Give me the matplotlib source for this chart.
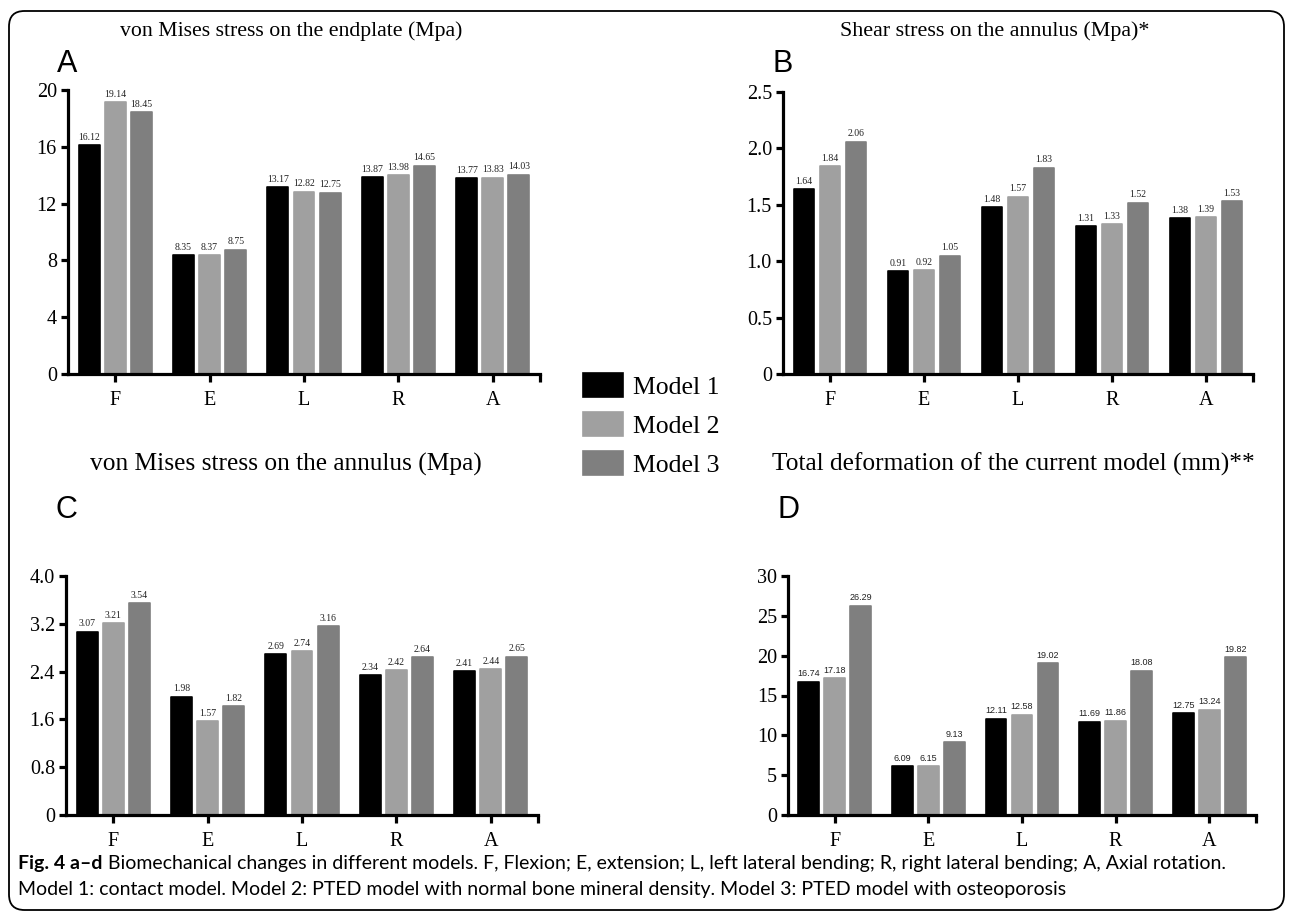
import matplotlib
matplotlib.use("Agg")
import matplotlib.pyplot as plt
import numpy as np
from matplotlib.patches import Patch, FancyBboxPatch

W, H = 1292, 919

cats = ["F", "E", "L", "R", "A"]
models = ["Model 1", "Model 2", "Model 3"]
colors = ["#000000", "#a0a0a0", "#7f7f7f"]

# panel A: von Mises stress on the endplate
endplate_m1 = [16.12, 8.35, 13.17, 13.87, 13.77]
endplate_m2 = [19.14, 8.37, 12.82, 13.98, 13.83]
endplate_m3 = [18.45, 8.75, 12.75, 14.65, 14.03]

# panel B: shear stress on the annulus
shear_m1 = [1.64, 0.91, 1.48, 1.31, 1.38]
shear_m2 = [1.84, 0.92, 1.57, 1.33, 1.39]
shear_m3 = [2.06, 1.05, 1.83, 1.52, 1.53]

# panel C: von Mises stress on the annulus
annulus_m1 = [3.07, 1.98, 2.69, 2.34, 2.41]
annulus_m2 = [3.21, 1.57, 2.74, 2.42, 2.44]
annulus_m3 = [3.54, 1.82, 3.16, 2.64, 2.65]

# panel D: total deformation
deform_m1 = [16.74, 6.09, 12.11, 11.69, 12.75]
deform_m2 = [17.18, 6.15, 12.58, 11.86, 13.24]
deform_m3 = [26.29, 9.13, 19.02, 18.08, 19.82]

serif = "Liberation Serif"
sans = "Liberation Sans"

fig = plt.figure(figsize=(W / 100, H / 100), dpi=100)


def px_axes(left, right, top, bottom):
    return fig.add_axes([left / W, 1 - bottom / H, (right - left) / W, (bottom - top) / H])


def panel(ax, series, ymax, ystep, fmt, title, title_size, letter, title_xy, letter_xy,
          label_font, label_size):
    x = np.arange(len(cats))
    width = 0.222
    pitch = 0.277
    for i, (vals, c) in enumerate(zip(series, colors)):
        bars = ax.bar(x + (i - 1) * pitch, vals, width, color=c, edgecolor=c,
                      linewidth=1.2, joinstyle="round", zorder=2)
        for b, v in zip(bars, vals):
            ax.annotate(f"{v:.2f}", (b.get_x() + b.get_width() / 2, v),
                        xytext=(0, 2.5), textcoords="offset points",
                        ha="center", va="bottom", fontsize=label_size,
                        family=label_font, color="#222222")
    ax.set_xlim(-0.5, 4.5)
    ax.set_ylim(0, ymax)
    yt = np.arange(0, ymax + ystep / 2, ystep)
    ax.set_yticks(yt)
    ax.set_yticklabels(["0"] + [fmt.format(v) for v in yt[1:]])
    ax.set_xticks(x)
    ax.set_xticklabels(cats)
    ax.set_xticks([4.5], minor=True)
    for s in ["top", "right"]:
        ax.spines[s].set_visible(False)
    for s in ["left", "bottom"]:
        ax.spines[s].set_linewidth(2.3)
    ax.tick_params(which="both", direction="out", length=5, width=2.3, labelsize=14.5, pad=3)
    ax.tick_params(axis="x", which="both", length=6, pad=6)
    for lab in ax.get_xticklabels() + ax.get_yticklabels():
        lab.set_family(serif)
    fig.text(title_xy[0] / W, 1 - title_xy[1] / H, title, ha="center", va="center",
             fontsize=title_size, family=serif)
    fig.text(letter_xy[0] / W, 1 - letter_xy[1] / H, letter, ha="center", va="center",
             fontsize=22, family=sans)


axA = px_axes(68, 540, 90, 374)
panel(axA, [endplate_m1, endplate_m2, endplate_m3], 20, 4, "{:.0f}",
      "von Mises stress on the endplate (Mpa)", 15.7, "A", (291, 31), (67, 64), serif, 7)

axB = px_axes(783, 1253, 92, 374)
panel(axB, [shear_m1, shear_m2, shear_m3], 2.5, 0.5, "{:.1f}",
      "Shear stress on the annulus (Mpa)*", 15.8, "B", (995, 31), (783, 64), serif, 7)

axC = px_axes(66, 538, 576, 815)
panel(axC, [annulus_m1, annulus_m2, annulus_m3], 4.0, 0.8, "{:.1f}",
      "von Mises stress on the annulus (Mpa)", 18.3, "C", (286, 464), (66, 510), serif, 7)

axD = px_axes(788, 1256, 576, 815)
panel(axD, [deform_m1, deform_m2, deform_m3], 30, 5, "{:.0f}",
      "Total deformation of the current model (mm)**", 18.3, "D", (1013, 464), (788, 510),
      sans, 6.5)

# legend
handles = [Patch(facecolor=c, edgecolor=c, linewidth=1.2, joinstyle="round") for c in colors]
fig.legend(handles, models, loc="center left", bbox_to_anchor=(583 / W, 1 - 425 / H),
           frameon=False, handlelength=1.55, handleheight=1.05, handletextpad=0.4,
           labelspacing=0.52, prop={"family": serif, "size": 18.5}, borderaxespad=0,
           borderpad=0)

# frame
frame = FancyBboxPatch((9 / W, 1 - 910 / H), (1284 - 9) / W, (910 - 11) / H,
                       boxstyle="round,pad=0,rounding_size=0.012",
                       mutation_aspect=W / H, transform=fig.transFigure,
                       facecolor="none", edgecolor="black", linewidth=1.3)
fig.patches.append(frame)

# caption
fig.canvas.draw()
r = fig.canvas.get_renderer()
cap_font = "Lato"
t1 = fig.text(18 / W, 1 - 864 / H, "Fig. 4 a\u2013d", fontsize=14, family=cap_font,
              weight="bold", va="center", ha="left")
bb = t1.get_window_extent(r)
fig.text((bb.x1 + 6) / W, 1 - 864 / H,
         "Biomechanical changes in different models. F, Flexion; E, extension; L, left lateral "
         "bending; R, right lateral bending; A, Axial rotation.",
         fontsize=14, family=cap_font, va="center", ha="left")
fig.text(18 / W, 1 - 890 / H,
         "Model 1: contact model. Model 2: PTED model with normal bone mineral density. "
         "Model 3: PTED model with osteoporosis",
         fontsize=14, family=cap_font, va="center", ha="left")

fig.savefig("out.png", dpi=100)
